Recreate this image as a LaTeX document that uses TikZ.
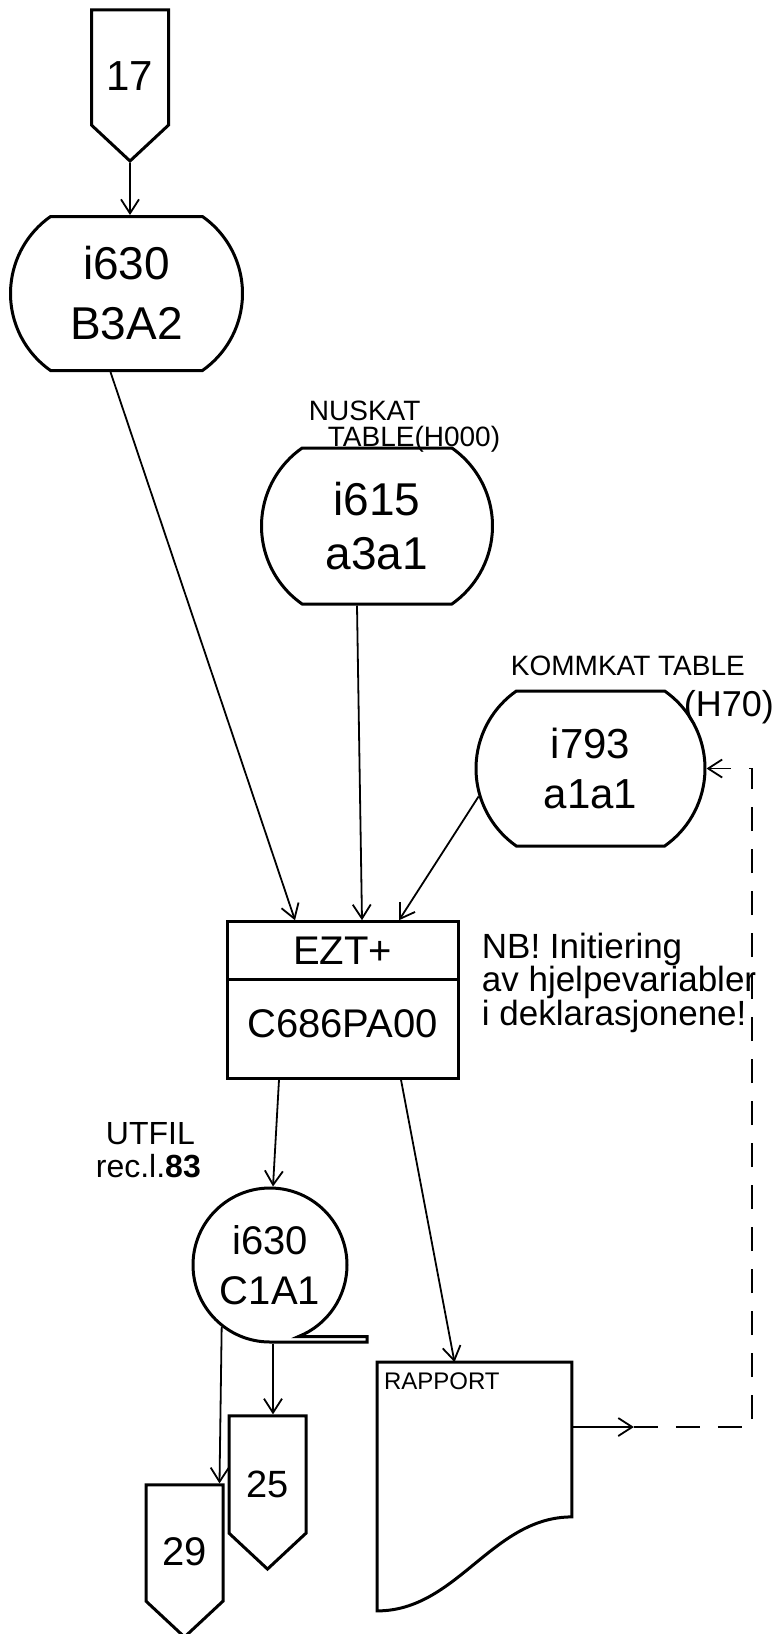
\documentclass[tikz,border=0pt]{standalone}
\usepackage{fontspec}
\setmainfont{Liberation Sans}
\usetikzlibrary{arrows.meta,positioning,calc,
shapes.misc,shapes.symbols,shapes.multipart}

\begin{document}
\begin{tikzpicture}[x=1pt, y=-1pt, line width=1.8pt,
  >={Straight Barb[length=14pt,width=18pt]},
  store/.style={draw, line width=3pt, rounded rectangle,
                rounded rectangle arc length=110, minimum width=232,
                minimum height=154, inner sep=0pt, align=center,
                font=\fontsize{46}{60}\selectfont},
  offpage/.style={draw, line width=3pt, signal, signal to=south,
                  signal pointer angle=94, minimum width=77,
                  minimum height=137, inner sep=0pt, text height=45pt,
                  text depth=0pt, font=\fontsize{42}{46}\selectfont},
  seqfile/.style={draw, line width=3pt, magnetic tape, minimum size=154,
                  magnetic tape tail extend=20, magnetic tape tail=0.07,
                  inner sep=0pt, align=center,
                  font=\fontsize{40}{50}\selectfont},
  prog/.style={draw, line width=3pt, rectangle split,
               rectangle split parts=2, minimum width=231, inner xsep=4pt,
               inner ysep=13.5pt, font=\fontsize{40}{48}\selectfont},
  doc/.style={minimum width=193, minimum height=247, inner sep=0pt},
  note/.style={align=left, inner sep=0pt, font=\fontsize{28}{26}\selectfont}]

\useasboundingbox (0,0) rectangle (779,1634);

% inngang og filer
\node[offpage] (p17) at (130,67.5) {17};
\node[store] (b3a2) at (126.5,293.5) {i630\\B3A2};
\node[store, minimum width=231, minimum height=156,
      font=\fontsize{46}{54}\selectfont] (i615) at (377,526) {i615\\a3a1};
\node[store, minimum width=229, minimum height=155,
      font=\fontsize{42}{50}\selectfont] (i793) at (590.5,768.5) {i793\\a1a1};

% tabellnavn
\node[note, anchor=north west] (nuskat) at (308,400)
     {NUSKAT\\\hspace*{19pt}TABLE(H000)};
\node[note, anchor=base west] (kommkat) at (510,675) {KOMMKAT TABLE};
\node[note, anchor=base west, font=\fontsize{36}{36}\selectfont] (h70) at (683,716) {(H70)};

% programmet
\node[prog] (ezt) at (342.5,1000)
     {EZT+\nodepart{two}\rule[-26pt]{0pt}{69pt}C686PA00};
\node[note, anchor=north west, font=\fontsize{35}{30}\selectfont] (nb) at (481,932)
     {NB! Initiering\\av hjelpevariabler\\i deklarasjonene!};

% utdata
\node[note, anchor=north west, font=\fontsize{32}{33}\selectfont] (utfil) at (95,1122)
     {\hspace*{10pt}UTFIL\\rec.l.\textbf{83}};
\node[seqfile] (c1a1) at (270,1265) {i630\\C1A1};
\node[offpage, font=\fontsize{38}{40}\selectfont] (p25) at (267.5,1474.5) {25};
\node[offpage, font=\fontsize{40}{44}\selectfont] (p29) at (184.5,1543) {29};
\node[doc, label={[name=raptext, anchor=north west, inner xsep=6pt, inner ysep=10pt,
      font=\fontsize{24}{26}\selectfont]north west:RAPPORT}] (rap) at (474.5,1486.5) {};
\draw[line width=3pt] (rap.north west) -- (rap.north east) -- ([yshift=94]rap.south east)
  .. controls ([xshift=-80,yshift=94]rap.south east) and ([xshift=80]rap.south west)
  .. (rap.south west) -- cycle;

% forbindelser
\draw[->] (p17.south) -- (p17.south |- b3a2.north);
\draw[->] ([xshift=-16]b3a2.south) -- ([xshift=-47.5]ezt.north);
\draw[->] ([xshift=-20]i615.south) -- ([xshift=19.5]ezt.north);
\draw[->] (i793.194) -- ([xshift=56.5]ezt.north);
\draw[->] ([xshift=-63.5]ezt.south) -- ([xshift=3]c1a1.north);
\draw[->] ([xshift=58.5]ezt.south) -- ([xshift=-20]rap.north);
\draw[->] ([xshift=3]c1a1.south) -- ([xshift=5.5]p25.north);
\draw[->] (c1a1.232) -- ([xshift=-5]p29.north east);
\draw[->] ([yshift=59.5]rap.east) -- ++(62,0) coordinate (fbtip);
\coordinate (fbcorner) at (752,1100);
\draw[->, dash pattern=on 24pt off 18pt] (fbtip) -| (fbcorner) |- (i793.east);
\end{tikzpicture}
\end{document}
